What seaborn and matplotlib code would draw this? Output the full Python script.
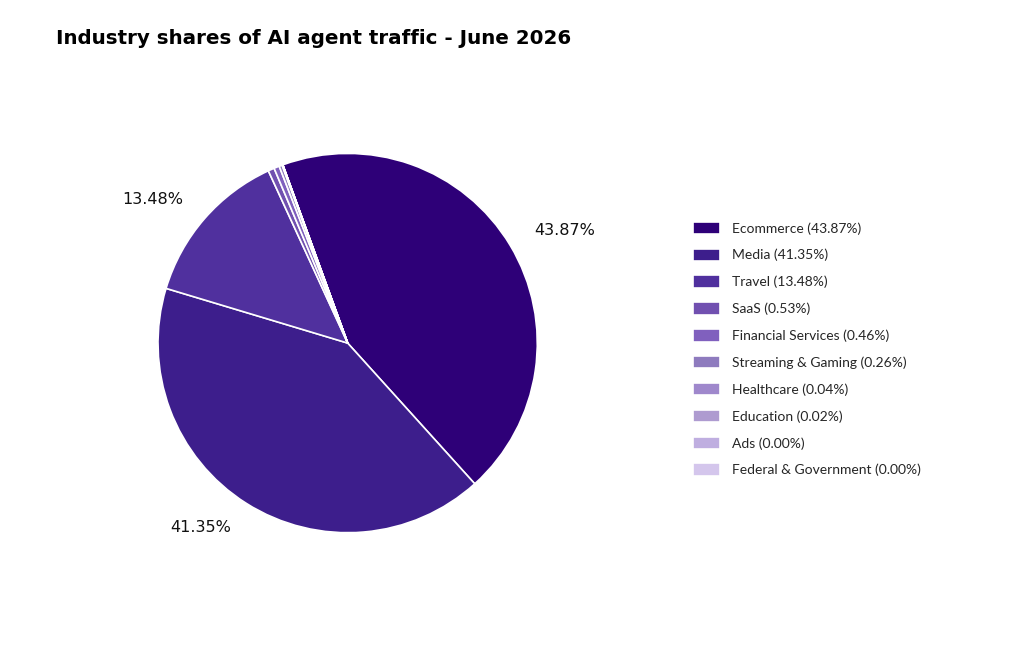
import matplotlib.pyplot as plt
import seaborn as sns

sns.set_theme(style="white")

industries = ["Ecommerce", "Media", "Travel", "SaaS", "Financial Services",
              "Streaming & Gaming", "Healthcare", "Education", "Ads",
              "Federal & Government"]
shares = [43.87, 41.35, 13.48, 0.53, 0.46, 0.26, 0.04, 0.02, 0.001, 0.001]
shown = ["43.87%", "41.35%", "13.48%", "", "", "", "", "", "", ""]
legend_shares = ["43.87%", "41.35%", "13.48%", "0.53%", "0.46%", "0.26%",
                 "0.04%", "0.02%", "0.00%", "0.00%"]
colors = ["#2E0078", "#3D1E8C", "#50309E", "#7150B0", "#8060BE",
          "#8E7BBE", "#9F88CC", "#AE9BD0", "#BFAEE0", "#D4C6EC"]

fig = plt.figure(figsize=(10.24, 6.61), dpi=100)
ax = fig.add_axes([0.108, 0.122, 0.463, 0.718])
wedges, texts = ax.pie(shares, colors=colors, labels=shown, startangle=110,
                       counterclock=False, labeldistance=1.15,
                       wedgeprops=dict(edgecolor="white", linewidth=1.2),
                       textprops=dict(fontsize=11.5, color="#111111"))
ax.set_aspect("equal")

fig.text(0.055, 0.942, "Industry shares of AI agent traffic - June 2026",
         fontsize=14.3, fontweight="bold", ha="left", va="center", color="black")

fig.legend(wedges, [f"{n} ({s})" for n, s in zip(industries, legend_shares)],
           loc="center left", bbox_to_anchor=(0.665, 0.472), frameon=False,
           prop=dict(family="Lato", size=10), handlelength=1.9, handleheight=1.0,
           labelspacing=1.0, handletextpad=0.9)

fig.savefig("out.png", dpi=100)
